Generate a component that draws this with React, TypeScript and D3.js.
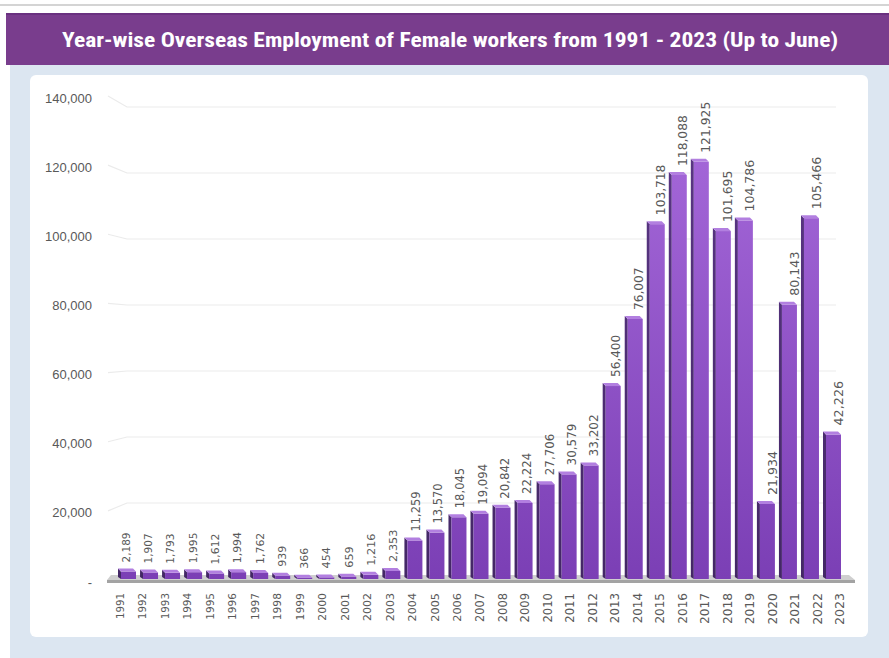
import React from "react";
import * as d3 from "d3";

const years = ["1991","1992","1993","1994","1995","1996","1997","1998","1999","2000","2001","2002","2003","2004","2005","2006","2007","2008","2009","2010","2011","2012","2013","2014","2015","2016","2017","2018","2019","2020","2021","2022","2023"];
const values = [2189,1907,1793,1995,1612,1994,1762,939,366,454,659,1216,2353,11259,13570,18045,19094,20842,22224,27706,30579,33202,56400,76007,103718,118088,121925,101695,104786,21934,80143,105466,42226];
const yTicks = [0,20000,40000,60000,80000,100000,120000,140000];
const title = "Year-wise Overseas Employment of Female workers from 1991 - 2023 (Up to June)";

const W = 889, H = 658;

export default function App() {
  const xBar = d3.scalePoint<string>().domain(years).range([127, 832]);
  const xVal = d3.scalePoint<string>().domain(years).range([126, 839]);
  const xLab = d3.scalePoint<string>().domain(years).range([120, 840]);
  const yBar = d3.scaleLinear().domain([0, 140000]).range([579, 100]);
  const yAxis = d3.scaleLinear().domain([0, 140000]).range([582, 98]);
  const yBack = d3.scaleLinear().domain([0, 140000]).range([569, 107]);
  const fs = d3.scaleLinear().domain([0, years.length - 1]).range([10.5, 12.8]);
  const fsx = d3.scaleLinear().domain([0, years.length - 1]).range([10.2, 12.6]);
  const fmt = d3.format(",");
  const bw = 18, side = 3, depth = 3;

  return (
    <svg width={W} height={H} style={{ position: "absolute", left: 0, top: 0 }}>
      <defs>
        <linearGradient id="front" gradientUnits="userSpaceOnUse" x1="0" y1="100" x2="0" y2="579">
          <stop offset="0" stopColor="#a86bdc" />
          <stop offset="1" stopColor="#7b3fb5" />
        </linearGradient>
        <linearGradient id="sideG" gradientUnits="userSpaceOnUse" x1="0" y1="100" x2="0" y2="579">
          <stop offset="0" stopColor="#5c3788" />
          <stop offset="1" stopColor="#432765" />
        </linearGradient>
      </defs>
      <rect x={0} y={0} width={W} height={H} fill="#ffffff" />
      <rect x={0} y={4} width={W} height={2} fill="#d4d4d4" />
      <rect x={10} y={60} width={W - 10} height={H - 60} fill="#dce6f1" />
      <rect x={6} y={13} width={W - 6} height={52} fill="#793d8d" />
      <rect x={6} y={13} width={W - 6} height={2} fill="#6a3180" />
      <text x={450} y={47} fill="#ffffff" fontSize={20} fontWeight="bold" textAnchor="middle"
        textLength={776} lengthAdjust="spacingAndGlyphs"
        fontFamily="'Liberation Sans Narrow', 'Roboto Condensed', 'Liberation Sans', Arial, sans-serif">{title}</text>
      <rect x={30} y={75} width={838} height={562} rx={6} fill="#ffffff" />

      {yTicks.filter(t => t > 0).map(t => (
        <path key={"g" + t}
          d={`M108,${yAxis(t) - 2} L127,${yBack(t)} L836,${yBack(t)}`}
          fill="none" stroke="#ebebeb" strokeWidth={1.2} />
      ))}
      {yTicks.map(t => (
        <text key={"yt" + t} x={92} y={yAxis(t)} dy="0.35em" textAnchor="end" fontSize={13}
          fill="#595959" fontFamily="'Liberation Sans', Arial, sans-serif">{t === 0 ? "-" : fmt(t)}</text>
      ))}

      <polygon points="111,575 849,575 855,580 107,580" fill="#cfcfcf" />
      <rect x={107} y={580} width={748} height={3} fill="#a3a3a3" />

      {years.map((yr, i) => {
        const cx = xBar(yr)!;
        const x = cx - bw / 2;
        const top = yBar(values[i]);
        const base = yBar(0);
        return (
          <g key={yr}>
            <polygon points={`${x},${top - depth} ${x + side},${top} ${x + side},${base} ${x},${base - 2}`} fill="url(#sideG)" />
            <rect x={x + side} y={top} width={bw - side} height={base - top} fill="url(#front)" />
            <polygon points={`${x},${top - depth} ${x + bw - side},${top - depth} ${x + bw},${top} ${x + side},${top}`} fill="#b27fe0" />
          </g>
        );
      })}

      {years.map((yr, i) => {
        const x = xVal(yr)!;
        const y = yBar(values[i]) - depth - 6;
        return (
          <text key={"v" + yr} transform={`translate(${x},${y}) rotate(-90)`} dy="0.35em"
            fontSize={fs(i)} fill="#595959" fontFamily="'DejaVu Sans', Verdana, sans-serif">{fmt(values[i])}</text>
        );
      })}

      {years.map((yr, i) => (
        <text key={"x" + yr} transform={`translate(${xLab(yr)},${593}) rotate(-90)`} dy="0.35em"
          textAnchor="end" fontSize={fsx(i)} fill="#595959"
          fontFamily="'DejaVu Sans', Verdana, sans-serif">{yr}</text>
      ))}
    </svg>
  );
}
